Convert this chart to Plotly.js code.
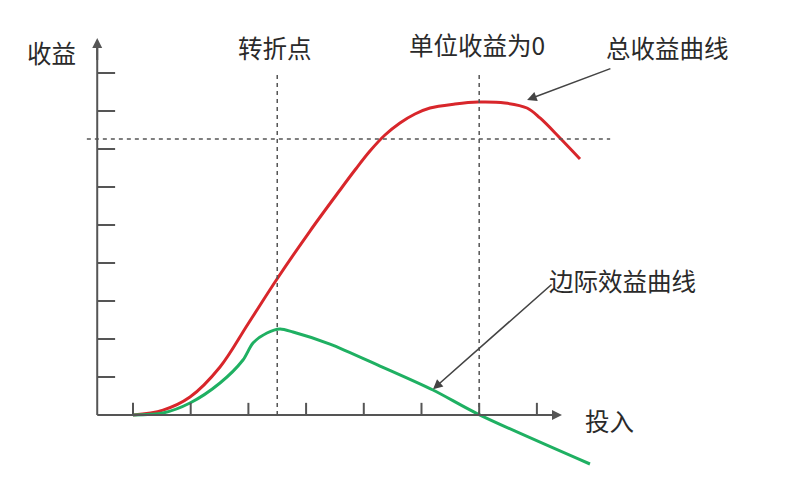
<!DOCTYPE html>
<html>
<head>
<meta charset="utf-8">
<script src="https://cdn.plot.ly/plotly-3.0.1.min.js"></script>
<style>html,body{margin:0;padding:0;background:#fff;}#chart{width:800px;height:483px;}</style>
</head>
<body>
<div id="chart"></div>
<script>
// Data (x: 投入, y: 收益)
const totalX = [1, 1.52, 1.988, 2.508, 2.993, 3.496, 4.068, 4.588, 4.847, 5.107, 5.367, 5.627, 5.887, 6.147, 6.581, 6.979, 7.447, 7.828, 8.054, 8.4, 8.747];
const totalY = [0, 0.13, 0.474, 1.263, 2.395, 3.579, 4.842, 5.921, 6.447, 6.947, 7.368, 7.684, 7.921, 8.079, 8.184, 8.237, 8.211, 8.079, 7.816, 7.289, 6.737];
const marginalX = [1, 1.52, 1.988, 2.508, 2.906, 3.08, 3.322, 3.548, 3.773, 4.414, 5.281, 6.199, 6.979, 8.92];
const marginalY = [0, 0.053, 0.316, 0.842, 1.447, 1.895, 2.158, 2.263, 2.184, 1.868, 1.289, 0.658, 0.026, -1.289];
const xTicks = [1, 2, 3, 4, 5, 6, 7, 8];
const yTicks = [1, 2, 3, 4, 5, 6, 7, 8, 9];
const turnX = 3.5;        // 转折点
const zeroMarginalX = 7.0; // 单位收益为0
const refLevelY = 7.26;   // horizontal reference level
const labels = {
  yTitle: '收益', xTitle: '投入', turn: '转折点', zero: '单位收益为0',
  total: '总收益曲线', marginal: '边际效益曲线'
};

const originX = 0.38;
const axisColor = '#555';
const font = {family: '"Noto Sans CJK SC", "Noto Sans", sans-serif', size: 24.5, color: '#2a2a2a'};

const shapes = [];
// axis lines
shapes.push({type:'line', xref:'x', yref:'y', x0:originX, x1:8.3, y0:0, y1:0, line:{color:axisColor, width:2}});
shapes.push({type:'line', xref:'x', yref:'y', x0:originX, x1:originX, y0:0, y1:9.8, line:{color:axisColor, width:2}});
// ticks
xTicks.forEach(t => shapes.push({type:'line', xref:'x', yref:'y', x0:t, x1:t, y0:0, y1:0.32, line:{color:axisColor, width:2}}));
yTicks.forEach(t => shapes.push({type:'line', xref:'x', yref:'y', x0:originX, x1:0.69, y0:t, y1:t, line:{color:axisColor, width:2}}));
// dashed reference lines
const dash = {color:'#555', width:1.5, dash:'4px,4px'};
shapes.push({type:'line', xref:'x', yref:'y', x0:turnX, x1:turnX, y0:0, y1:9.05, line:dash});
shapes.push({type:'line', xref:'x', yref:'y', x0:zeroMarginalX, x1:zeroMarginalX, y0:0, y1:9.05, line:dash});
shapes.push({type:'line', xref:'x', yref:'y', x0:0.2, x1:9.27, y0:refLevelY, y1:refLevelY, line:dash});

function txt(t, px, py) {
  return {text:t, xref:'paper', yref:'paper', x:px/800, y:1-py/483, xanchor:'center', yanchor:'middle', showarrow:false, font:font};
}
const annotations = [
  txt(labels.yTitle, 51, 53),
  txt(labels.turn, 275, 48),
  txt(labels.zero, 477, 44),
  txt(labels.total, 667, 48),
  txt(labels.marginal, 622, 280),
  txt(labels.xTitle, 609, 420),
  // axis arrowheads
  {text:'', xref:'x', yref:'y', axref:'x', ayref:'y', x:originX, y:9.92, ax:originX, ay:9.3, showarrow:true, arrowhead:2, arrowsize:1, arrowwidth:2, arrowcolor:axisColor},
  {text:'', xref:'x', yref:'y', axref:'x', ayref:'y', x:8.435, y:0, ax:8.1, ay:0, showarrow:true, arrowhead:2, arrowsize:1, arrowwidth:2, arrowcolor:axisColor},
  // pointer arrows
  {text:'', xref:'x', yref:'y', axref:'x', ayref:'y', x:7.83, y:8.29, ax:9.30, ay:9.13, showarrow:true, arrowhead:2, arrowsize:1.2, arrowwidth:1.6, arrowcolor:'#444'},
  {text:'', xref:'x', yref:'y', axref:'x', ayref:'y', x:6.20, y:0.68, ax:8.28, ay:3.47, showarrow:true, arrowhead:2, arrowsize:1.2, arrowwidth:1.6, arrowcolor:'#444'}
];

const traces = [
  {x:totalX, y:totalY, type:'scatter', mode:'lines', line:{color:'#d8262b', width:3, shape:'spline', smoothing:1}, hoverinfo:'skip'},
  {x:marginalX, y:marginalY, type:'scatter', mode:'lines', line:{color:'#1fb062', width:3, shape:'spline', smoothing:0.8}, hoverinfo:'skip'}
];

const layout = {
  width:800, height:483,
  margin:{l:0, r:0, t:0, b:0},
  paper_bgcolor:'#fff', plot_bgcolor:'#fff',
  showlegend:false,
  xaxis:{range:[-1.305, 12.56], visible:false, fixedrange:true},
  yaxis:{range:[-1.789, 10.921], visible:false, fixedrange:true},
  shapes:shapes,
  annotations:annotations
};
Plotly.newPlot('chart', traces, layout, {staticPlot:true, displayModeBar:false});
</script>
</body>
</html>
